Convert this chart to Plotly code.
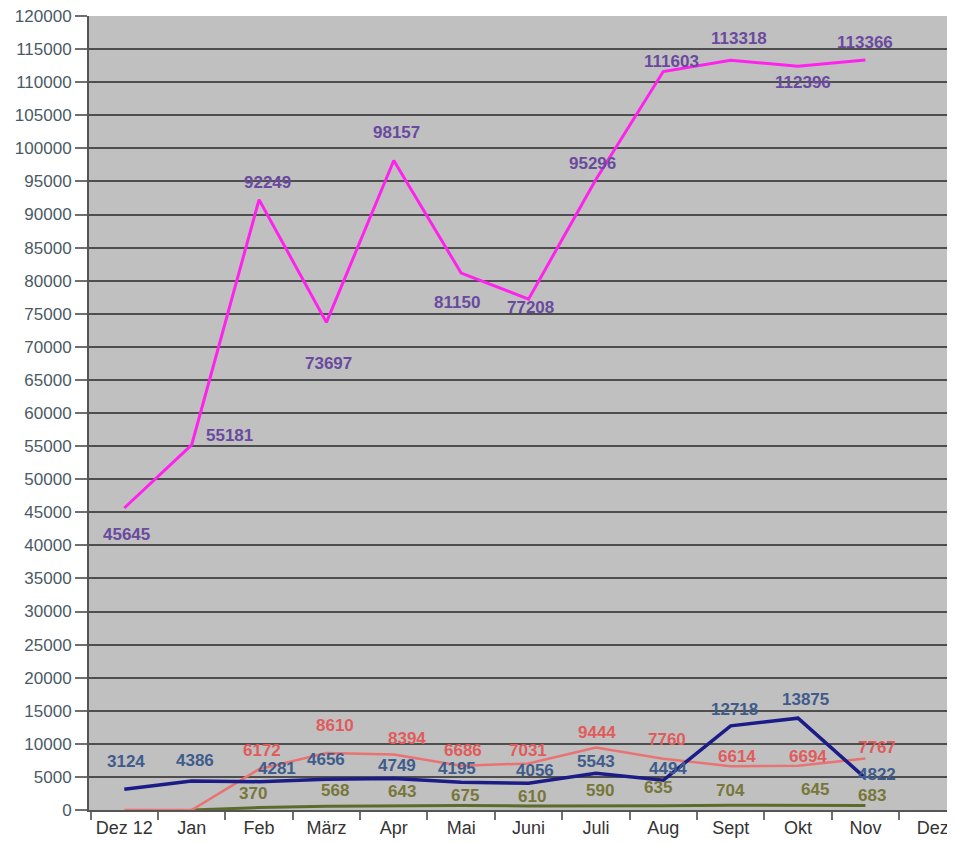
import plotly.graph_objects as go

months = ["Dez 12", "Jan", "Feb", "März", "Apr", "Mai", "Juni", "Juli", "Aug", "Sept", "Okt", "Nov", "Dez"]

magenta_vals = [45645, 55181, 92249, 73697, 98157, 81150, 77208, 95296, 111603, 113318, 112396, 113366, None]
blue_vals = [3124, 4386, 4281, 4656, 4749, 4195, 4056, 5543, 4494, 12718, 13875, 4822, None]
red_vals = [0, 0, 6172, 8610, 8394, 6686, 7031, 9444, 7760, 6614, 6694, 7767, None]
green_vals = [None, 0, 370, 568, 643, 675, 610, 590, 635, 704, 645, 683, None]

# label offsets in pixels (dx, dy up); None = no label shown
magenta_off = [(2, -27), (38, 9), (8, 17), (2, -41), (3, 28), (-4, -29), (2, -8),
               (-3, 16), (8, 10), (8, 22), (5, -16), (0, 17), None]
blue_off = [(2, 28), (3, 20), (18, 13), (0, 20), (3, 13), (-4, 14), (6, 13),
            (0, 12), (5, 12), (4, 16), (7, 19), (12, 4), None]
red_off = [None, None, (3, 19), (9, 28), (13, 16), (2, 15), (-1, 13),
           (1, 15), (4, 19), (6, 10), (10, 9), (12, 11), None]
green_off = [None, None, (-6, 14), (9, 16), (8, 14), (4, 10), (3, 9),
             (4, 16), (-5, 18), (0, 15), (17, 16), (7, 10), None]

series = [
    (green_vals, green_off, "#5b6b2a", "#77773a", 3),
    (red_vals, red_off, "#ea7272", "#e05c5c", 2.5),
    (blue_vals, blue_off, "#1c1c88", "#3f5c8c", 3.5),
    (magenta_vals, magenta_off, "#ff22ee", "#6a4a9e", 3),
]

fig = go.Figure()
annotations = []
for vals, offs, lcol, tcol, lw in series:
    fig.add_trace(go.Scatter(
        x=months, y=vals, mode="lines", line=dict(color=lcol, width=lw),
        showlegend=False, hoverinfo="x+y"))
    for m, v, off in zip(months, vals, offs):
        if v is None or off is None:
            continue
        annotations.append(dict(
            x=m, y=v, xref="x", yref="y", text=str(v), showarrow=False,
            xshift=off[0], yshift=off[1], xanchor="center", yanchor="middle",
            font=dict(family="Liberation Sans", size=17, color=tcol, weight="bold"),
        ))

fig.update_layout(
    width=947, height=836,
    margin=dict(l=81, r=0, t=8, b=34),
    paper_bgcolor="white",
    plot_bgcolor="#c0c0c0",
    font=dict(family="Liberation Sans", size=16, color="#4a5a64"),
    annotations=annotations,
)

fig.update_xaxes(
    type="category", categoryorder="array", categoryarray=months,
    range=[-0.524, 12.33], tickson="boundaries", ticks="outside", ticklen=8,
    tickcolor="#707070", tickwidth=2, showgrid=False, automargin=False,
    showline=True, linecolor="#555555", linewidth=2,
    ticklabeloverflow="allow",
    tickfont=dict(family="Liberation Sans", size=18, color="#333333"),
)

fig.update_yaxes(
    range=[0, 120000], dtick=5000, tick0=0, tickformat="d", ticks="outside", ticklen=12,
    tickcolor="#707070", tickwidth=2, showgrid=True, gridcolor="#4e4e4e", gridwidth=2,
    showline=True, linecolor="#555555", linewidth=2, zeroline=False, automargin=False,
    ticklabeloverflow="allow",
    tickfont=dict(family="Liberation Sans", size=17, color="#4a5a64"),
)

fig.write_html("out.html")
